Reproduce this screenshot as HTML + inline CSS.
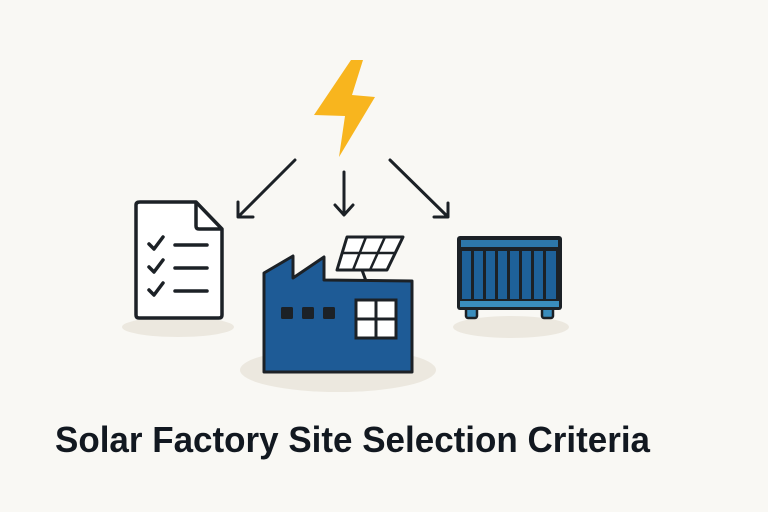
<!DOCTYPE html>
<html><head><meta charset="utf-8"><style>html,body{margin:0;padding:0;background:#f9f8f4;}svg{display:block}</style></head>
<body>
<svg width="768" height="512" viewBox="0 0 768 512" xmlns="http://www.w3.org/2000/svg">
<rect width="768" height="512" fill="#f9f8f4"/>
<!-- shadows -->
<ellipse cx="178" cy="327" rx="56" ry="10" fill="#ece8df"/>
<ellipse cx="338" cy="370" rx="98" ry="22" fill="#ece8df"/>
<ellipse cx="511" cy="327" rx="58" ry="11" fill="#ece8df"/>
<!-- bolt -->
<polygon points="351,60 363,60 352,95 375,97 339,157 345,116 314,115" fill="#f8b51e"/>
<!-- arrows -->
<g stroke="#1c2126" stroke-width="3" fill="none" stroke-linecap="round" stroke-linejoin="round">
<line x1="295" y1="160" x2="239" y2="216"/>
<polyline points="238,202 238,217 253,217"/>
<line x1="344" y1="172" x2="344" y2="214"/>
<polyline points="335,205 344,215 353,205"/>
<line x1="390" y1="160" x2="447" y2="216"/>
<polyline points="434,217 448,217 448,203"/>
</g>
<!-- document -->
<path d="M140,202 L196,202 L222,229 L222,315 Q222,318 219,318 L139,318 Q136,318 136,315 L136,205 Q136,202 140,202 Z" fill="#fff" stroke="#1c2126" stroke-width="3.5" stroke-linejoin="round"/>
<path d="M196,202 L196,226 Q196,229 199,229 L222,229" fill="none" stroke="#1c2126" stroke-width="3.5" stroke-linejoin="round"/>
<g stroke="#1c2126" stroke-width="3.5" fill="none" stroke-linecap="round" stroke-linejoin="round">
<polyline points="149,244 154,249 163,237"/>
<polyline points="149,267 154,272 163,260"/>
<polyline points="149,290 154,295 163,283"/>
<line x1="175" y1="245" x2="207" y2="245"/>
<line x1="175" y1="268" x2="207" y2="268"/>
<line x1="175" y1="291" x2="207" y2="291"/>
</g>
<!-- factory -->
<line x1="362" y1="270" x2="366" y2="281" stroke="#1c2126" stroke-width="3"/>
<polygon points="347,237 403,237 387,270 337,270" fill="#fff" stroke="#1c2126" stroke-width="3" stroke-linejoin="round"/>
<g stroke="#1c2126" stroke-width="2.5">
<line x1="366" y1="237" x2="353" y2="270"/>
<line x1="385" y1="237" x2="370" y2="270"/>
<line x1="342" y1="253" x2="395" y2="253"/>
</g>
<polygon points="264,273 293,256 293,278 324,257 324,280 412,281 412,372 264,372" fill="#1e5b96" stroke="#1c2126" stroke-width="3" stroke-linejoin="round"/>
<rect x="281" y="307" width="12" height="12" rx="1.5" fill="#1c2126"/>
<rect x="302" y="307" width="12" height="12" rx="1.5" fill="#1c2126"/>
<rect x="323" y="307" width="12" height="12" rx="1.5" fill="#1c2126"/>
<rect x="356" y="300" width="40" height="38" fill="#fff" stroke="#1c2126" stroke-width="3"/>
<line x1="376" y1="300" x2="376" y2="338" stroke="#1c2126" stroke-width="3"/>
<line x1="356" y1="319" x2="396" y2="319" stroke="#1c2126" stroke-width="3"/>
<!-- container -->
<rect x="466" y="305" width="11" height="13" rx="2" fill="#3a8dbd" stroke="#1c2126" stroke-width="2.5"/>
<rect x="542" y="305" width="11" height="13" rx="2" fill="#3a8dbd" stroke="#1c2126" stroke-width="2.5"/>
<rect x="457" y="236" width="105" height="74" rx="3" fill="#1c2126"/>
<rect x="461" y="240" width="97" height="7" fill="#2d77aa"/>
<g fill="#1e6199">
<rect x="462" y="251" width="9" height="48"/>
<rect x="474" y="251" width="9" height="48"/>
<rect x="486" y="251" width="9" height="48"/>
<rect x="498" y="251" width="9" height="48"/>
<rect x="510" y="251" width="9" height="48"/>
<rect x="522" y="251" width="9" height="48"/>
<rect x="534" y="251" width="9" height="48"/>
<rect x="546" y="251" width="10" height="48"/>
</g>
<rect x="460" y="301" width="99" height="6" fill="#3a8dbd"/>
<!-- title -->
<text x="55" y="452" font-family="Liberation Sans, Arial, sans-serif" font-weight="bold" font-size="36" fill="#121820" textLength="595" lengthAdjust="spacingAndGlyphs">Solar Factory Site Selection Criteria</text>
</svg>
</body></html>
